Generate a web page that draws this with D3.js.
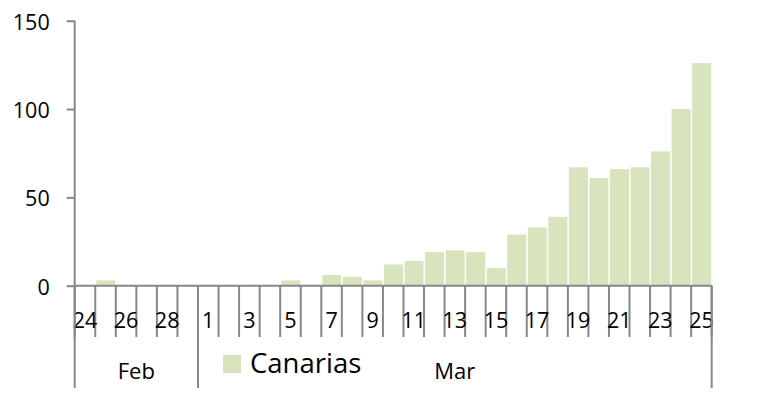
<!DOCTYPE html>
<html>
<head>
<meta charset="utf-8">
<script src="https://cdn.jsdelivr.net/npm/d3@7"></script>
<style>
  body { margin: 0; background: #fff; }
  text { font-family: "Open Sans", sans-serif; fill: #000; }
</style>
</head>
<body>
<script>
// Data
var febDays = [24, 25, 26, 27, 28, 29];
var marDays = [1, 2, 3, 4, 5, 6, 7, 8, 9, 10, 11, 12, 13, 14, 15, 16, 17, 18, 19, 20, 21, 22, 23, 24, 25];
var febValues = [0, 3, 0, 0, 0, 0];
var marValues = [0, 0, 0, 0, 3, 0, 6, 5, 3, 12, 14, 19, 20, 19, 10, 29, 33, 39, 67, 61, 66, 67, 76, 100, 126];
var yTicks = [0, 50, 100, 150];
var seriesName = "Canarias";
var months = ["Feb", "Mar"];

var dataset = febDays.map(function(d, i) { return { key: "Feb-" + d, day: d, month: "Feb", value: febValues[i] }; })
  .concat(marDays.map(function(d, i) { return { key: "Mar-" + d, day: d, month: "Mar", value: marValues[i] }; }));

var width = 768, height = 398;
var x0 = 74.7, x1 = 711.7, yBase = 285.7, yTop = 20.7;

var svg = d3.select("body").append("svg")
  .attr("width", width)
  .attr("height", height);

var xScale = d3.scaleBand()
  .domain(dataset.map(function(d) { return d.key; }))
  .range([x0, x1])
  .padding(0);

var yScale = d3.scaleLinear()
  .domain([0, 150])
  .range([yBase, yTop]);

var axisColor = "#878787";

// Bars
svg.selectAll("rect.bar")
  .data(dataset)
  .enter().append("rect")
  .attr("class", "bar")
  .attr("x", function(d) { return xScale(d.key) + 1; })
  .attr("y", function(d) { return yScale(d.value); })
  .attr("width", xScale.bandwidth() - 1.5)
  .attr("height", function(d) { return yBase - yScale(d.value); })
  .style("fill", "#d7e4bd");

// Y axis
var yAxis = svg.append("g")
  .attr("transform", "translate(" + x0 + ",0)")
  .call(d3.axisLeft(yScale).tickValues(yTicks).tickSize(8).tickPadding(17));
yAxis.select(".domain").attr("stroke", axisColor).attr("stroke-width", 2).attr("d", "M0," + yTop + "V" + yBase);
yAxis.selectAll(".tick line").attr("stroke", axisColor).attr("stroke-width", 2);
yAxis.selectAll(".tick text")
  .style("font-size", "21.5px")
  .attr("dy", "0.4em");

// X axis baseline
svg.append("line")
  .attr("x1", x0).attr("x2", x1)
  .attr("y1", yBase).attr("y2", yBase)
  .attr("stroke", axisColor).attr("stroke-width", 2);

// Category ticks between days
var bounds = dataset.map(function(d) { return xScale(d.key); }).concat([x1]);
svg.selectAll("line.dtick")
  .data(bounds)
  .enter().append("line")
  .attr("class", "dtick")
  .attr("x1", function(d) { return d; })
  .attr("x2", function(d) { return d; })
  .attr("y1", yBase)
  .attr("y2", 337)
  .attr("stroke", axisColor).attr("stroke-width", 2);

// Day labels (every other day)
svg.selectAll("text.day")
  .data(dataset.filter(function(d, i) { return i % 2 === 0; }))
  .enter().append("text")
  .attr("class", "day")
  .attr("x", function(d) { return xScale(d.key) + xScale.bandwidth() / 2; })
  .attr("y", 328)
  .attr("text-anchor", "middle")
  .style("font-size", "21.5px")
  .text(function(d) { return d.day; });

// Month separators and labels
var monthRanges = months.map(function(m) {
  var items = dataset.filter(function(d) { return d.month === m; });
  var start = xScale(items[0].key);
  var end = xScale(items[items.length - 1].key) + xScale.bandwidth();
  return { name: m, start: start, end: end };
});

var seps = [monthRanges[0].start].concat(monthRanges.map(function(r) { return r.end; }));
svg.selectAll("line.msep")
  .data(seps)
  .enter().append("line")
  .attr("class", "msep")
  .attr("x1", function(d) { return d; })
  .attr("x2", function(d) { return d; })
  .attr("y1", yBase)
  .attr("y2", 388)
  .attr("stroke", axisColor).attr("stroke-width", 2);

svg.selectAll("text.month")
  .data(monthRanges)
  .enter().append("text")
  .attr("class", "month")
  .attr("x", function(d) { return (d.start + d.end) / 2; })
  .attr("y", 379)
  .attr("text-anchor", "middle")
  .style("font-size", "22px")
  .text(function(d) { return d.name; });

// Legend
var legend = svg.append("g").attr("transform", "translate(223,355)");
legend.append("rect")
  .attr("width", 18).attr("height", 18)
  .style("fill", "#d7e4bd");
legend.append("text")
  .attr("x", 27)
  .attr("y", 18)
  .style("font-size", "27.5px")
  .text(seriesName);
</script>
</body>
</html>
